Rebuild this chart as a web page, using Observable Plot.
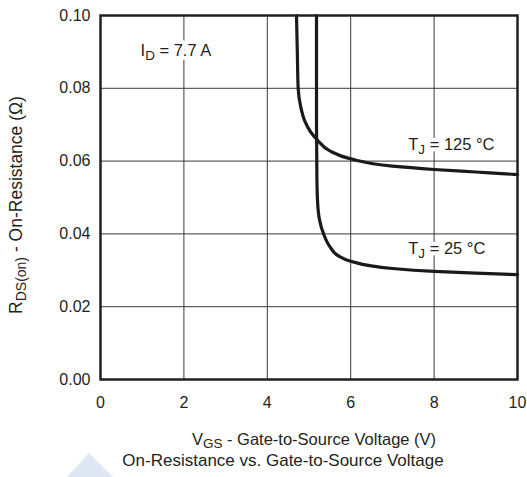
<!DOCTYPE html>
<html><head><meta charset="utf-8">
<script src="https://cdn.jsdelivr.net/npm/d3@7"></script>
<script src="https://cdn.jsdelivr.net/npm/@observablehq/plot@0.6"></script>
<style>
body{margin:0;background:#fff;font-family:"Liberation Sans",Arial,sans-serif;}
#wrap{position:relative;width:527px;height:477px;overflow:hidden;background:#fff}
#deco{position:absolute;left:0;top:0}
#chart{position:absolute;left:0;top:0}
#title{position:absolute;left:0;top:452.6px;width:527px;box-sizing:border-box;padding-left:39px;text-align:center;font-size:17px;line-height:15px;color:#231f20;white-space:nowrap}
</style></head><body>
<div id="wrap">
<svg id="deco" width="527" height="477"><polygon points="89,453 67,477 113,477" fill="#dfe6f4"/></svg>
<div id="chart"></div>
<div id="title">On-Resistance vs. Gate-to-Source Voltage</div>
</div>
<script>
// Data
const vgs125 = [4.70, 4.72, 4.74, 4.80, 4.90, 5.04, 5.20, 5.50, 6.0, 7.0, 8.0, 9.0, 10];
const rds125 = [0.100, 0.090, 0.080, 0.075, 0.071, 0.068, 0.0658, 0.0628, 0.0606, 0.0586, 0.0577, 0.0570, 0.0563];
const vgs25 = [5.18, 5.18, 5.19, 5.21, 5.25, 5.35, 5.50, 5.70, 6.0, 7.0, 8.0, 9.0, 10];
const rds25 = [0.100, 0.070, 0.055, 0.048, 0.044, 0.040, 0.0365, 0.0340, 0.0325, 0.0305, 0.0297, 0.0292, 0.0288];
const xTicks = [0, 2, 4, 6, 8, 10];
const yTicks = [0, 0.02, 0.04, 0.06, 0.08, 0.10];
const annotMain = ["I", "T", "T"];
const annotSub = ["D", "J", "J"];
const annotRest = [" = 7.7 A", " = 125 °C", " = 25 °C"];
const annotX = [0.96, 7.38, 7.38];
const annotY = [0.0904, 0.0646, 0.0359];
const xLabel = [{t: "V"}, {t: "GS", sub: true}, {t: " - Gate-to-Source Voltage (V)"}];
const yLabel = [{t: "R"}, {t: "DS(on)", sub: true}, {t: " - On-Resistance (Ω)"}];

const curves = [
  ...vgs125.map((v, i) => ({series: "125", vgs: v, rds: rds125[i]})),
  ...vgs25.map((v, i) => ({series: "25", vgs: v, rds: rds25[i]}))
];
const annots = annotMain.map((m, i) => ({x: annotX[i], y: annotY[i], text: m + annotSub[i] + annotRest[i]}));

const ink = "#231f20";
const chart = Plot.plot({
  width: 527, height: 452,
  marginTop: 15, marginLeft: 100, marginRight: 10, marginBottom: 73,
  style: {fontFamily: "'Liberation Sans', Arial, sans-serif", fontSize: "16px", color: ink, background: "transparent", overflow: "visible"},
  x: {domain: [0, 10], ticks: xTicks, tickSize: 0, tickPadding: 17, label: null},
  y: {domain: [0, 0.1], ticks: yTicks, tickFormat: d => d.toFixed(2), tickSize: 0, tickPadding: 10, label: null},
  marks: [
    Plot.gridX(xTicks, {stroke: "#3a3a3a", strokeOpacity: 1, strokeWidth: 1}),
    Plot.gridY(yTicks, {stroke: "#3a3a3a", strokeOpacity: 1, strokeWidth: 1}),
    Plot.text(annots, {x: "x", y: "y", text: "text", textAnchor: "start", fontSize: 16.5, fill: "white", stroke: "white", strokeWidth: 8}),
    Plot.text(annots, {x: "x", y: "y", text: "text", textAnchor: "start", fontSize: 16.5, fill: ink}),
    Plot.line(curves, {x: "vgs", y: "rds", z: "series", stroke: "#1a1a1a", strokeWidth: 3.2, curve: "monotone-y"}),
    Plot.frame({stroke: ink, strokeWidth: 2.5})
  ]
});
document.getElementById("chart").appendChild(chart);

const svg = d3.select(chart);
function rich(sel, parts, subSize, shift) {
  sel.text(null);
  parts.forEach((p, i) => {
    const t = sel.append("tspan").text(p.t);
    if (p.sub) t.attr("font-size", subSize).attr("dy", shift);
    else if (i > 0 && parts[i - 1].sub) t.attr("dy", -shift);
  });
}
svg.selectAll('g[aria-label="text"]').each(function() {
  d3.select(this).selectAll("text").each(function(d, i) {
    rich(d3.select(this), [{t: annotMain[i]}, {t: annotSub[i], sub: true}, {t: annotRest[i]}], 13.5, 4);
  });
});
const xl = svg.append("text").attr("x", 314).attr("y", 444.5).attr("text-anchor", "middle").attr("fill", ink).attr("font-size", 16.5);
rich(xl, xLabel, 13.5, 3);
const yl = svg.append("text").attr("transform", "translate(21.5,205) rotate(-90)").attr("text-anchor", "middle").attr("fill", ink).attr("font-size", 17.5);
rich(yl, yLabel, 14, 4.5);
</script>
</body></html>
